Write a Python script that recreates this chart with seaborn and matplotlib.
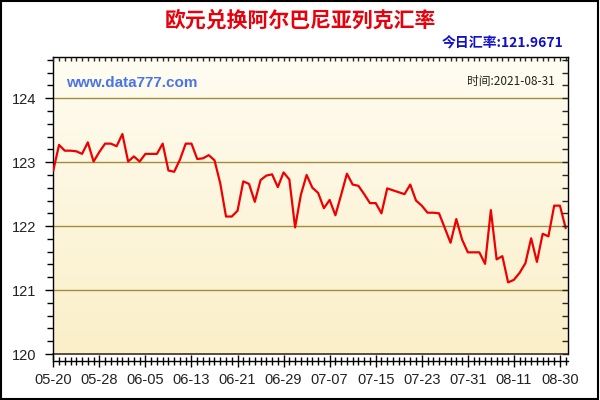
import numpy as np
import pandas as pd
import matplotlib
matplotlib.use('Agg')
import matplotlib.pyplot as plt
import matplotlib.patches as mpatches
from matplotlib.colors import LinearSegmentedColormap
from matplotlib.ticker import MultipleLocator
import seaborn as sns

# EUR -> ALL exchange rate, 2021-05-20 .. 2021-08-31
rates = [
    122.87, 123.27, 123.18, 123.18, 123.17, 123.13, 123.31, 123.01, 123.16, 123.29,
    123.29, 123.25, 123.44, 123.01, 123.09, 123.01, 123.13, 123.13, 123.13, 123.29,
    122.87, 122.85, 123.04, 123.29, 123.29, 123.05, 123.06, 123.11, 123.03, 122.67,
    122.15, 122.15, 122.24, 122.70, 122.66, 122.38, 122.72, 122.79, 122.81, 122.61,
    122.84, 122.73, 121.98, 122.49, 122.80, 122.60, 122.52, 122.28, 122.41, 122.17,
    122.49, 122.82, 122.65, 122.63, 122.50, 122.36, 122.36, 122.20, 122.59, 122.56,
    122.53, 122.50, 122.65, 122.40, 122.32, 122.21, 122.21, 122.20, 121.97, 121.74,
    122.11, 121.79, 121.59, 121.59, 121.59, 121.41, 122.25, 121.48, 121.53, 121.12,
    121.16, 121.27, 121.42, 121.81, 121.44, 121.88, 121.84, 122.32, 122.32, 121.9671,
]
date_labels = ['05-20', '05-28', '06-05', '06-13', '06-21', '06-29',
               '07-07', '07-15', '07-23', '07-31', '08-11', '08-30']
label_step = 8
y_ticks = [120, 121, 122, 123, 124]

title = '欧元兑换阿尔巴尼亚列克汇率'
today_text = '今日汇率:121.9671'
time_text = '时间:2021-08-31'
site_text = 'www.data777.com'

df = pd.DataFrame({'idx': np.arange(len(rates)), 'rate': rates})

sns.set_style('white')
plt.rcParams['font.family'] = ['Liberation Sans', 'Noto Sans CJK SC', 'DejaVu Sans']

fig = plt.figure(figsize=(6, 4), dpi=100)
fig.patch.set_facecolor('white')
ax = fig.add_axes([53 / 600, 1 - 354 / 400, 515 / 600, 297 / 400])

# gradient background
grad = LinearSegmentedColormap.from_list('bg', ['#FBEFC9', '#FFFDF2'])
ymin, ymax = 120, 124.645
xmin, xmax = -0.05, 89.4
ax.imshow(np.linspace(0, 1, 256).reshape(-1, 1), cmap=grad, aspect='auto',
          extent=[xmin, xmax, ymin, ymax], origin='lower', zorder=0)

for yv in y_ticks[1:]:
    ax.axhline(yv, color='#A58B3C', linewidth=1, zorder=1)
# plot-area bottom edge (the x axis itself sits a few pixels lower)
ax.axhline(ymin, color='#3A3020', linewidth=1.2, zorder=2, clip_on=False)

sns.lineplot(data=df, x='idx', y='rate', ax=ax, color='#EE0000',
             linewidth=1.6, zorder=3)

ax.set_xlim(xmin, xmax)
ax.set_ylim(ymin, ymax)
ax.set_xlabel('')
ax.set_ylabel('')

# twin axes only used for the inward ticks on the top and right edges
ax_top = ax.twiny()
ax_top.set_xlim(xmin, xmax)
ax_top.xaxis.set_major_locator(MultipleLocator(1))
ax_top.tick_params(axis='x', direction='in', length=3, width=1, labeltop=False)
ax_right = ax.twinx()
ax_right.set_ylim(ymin, ymax)
ax_right.yaxis.set_major_locator(MultipleLocator(0.2))
ax_right.tick_params(axis='y', direction='in', length=4, width=1, labelright=False)
for a in (ax_top, ax_right):
    a.grid(False)
    for s in a.spines.values():
        s.set_visible(False)

ax.set_xticks(np.arange(0, len(date_labels) * label_step, label_step))
ax.set_xticklabels(date_labels)
ax.xaxis.set_minor_locator(MultipleLocator(1))
ax.set_yticks(y_ticks)
ax.yaxis.set_minor_locator(MultipleLocator(0.2))

ax.tick_params(axis='y', which='major', direction='out', length=6, width=1,
               color='black', labelsize=10.5, labelcolor='#222222', pad=6)
ax.tick_params(axis='y', which='minor', direction='out', length=4, width=1,
               color='black')
ax.tick_params(axis='x', which='major', direction='inout', length=9, width=1,
               color='black', labelsize=10.5, labelcolor='#222222', pad=4)
ax.tick_params(axis='x', which='minor', direction='inout', length=6, width=1,
               color='black')
ax.spines['bottom'].set_position(('outward', 5))
ax.spines['left'].set_bounds(ymin - 0.08, ymax)
for s in ax.spines.values():
    s.set_color('black')
    s.set_linewidth(1)

# texts
fig.text(0.5, 1 - 20 / 400, title, ha='center', va='center', fontsize=15,
         fontweight='bold', color='#E8000B',
         family=['Noto Sans CJK SC', 'DejaVu Sans'])
fig.text(563 / 600, 1 - 43 / 400, today_text, ha='right', va='center', fontsize=10,
         fontweight='bold', color='#1010CC',
         family=['Noto Sans CJK SC', 'DejaVu Sans'])
fig.text(66 / 600, 1 - 83 / 400, site_text, ha='left', va='center', fontsize=11,
         fontweight='bold', color='#4A74E8', family=['Liberation Sans'])
fig.text(555 / 600, 1 - 82 / 400, time_text, ha='right', va='center', fontsize=8.5,
         color='#222222', family=['Noto Sans CJK SC', 'DejaVu Sans'])

# outer frame
fig.patches.append(mpatches.Rectangle((0.002, 0.003), 0.995, 0.994, transform=fig.transFigure,
                                      fill=False, edgecolor='black', linewidth=1.5))

fig.savefig('out.png', dpi=100)
